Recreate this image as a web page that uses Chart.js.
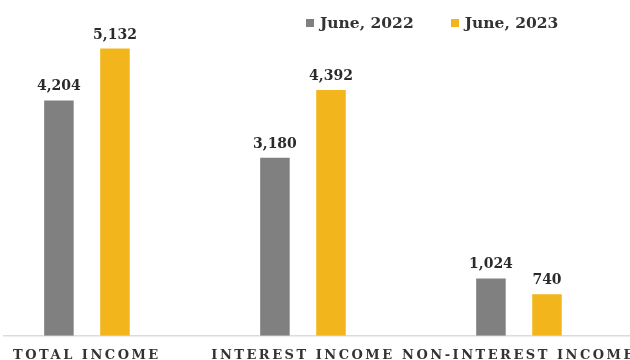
<!DOCTYPE html>
<html>
<head>
<meta charset="utf-8">
<title>Income comparison</title>
<script src="https://cdn.jsdelivr.net/npm/chart.js@4.4.0/dist/chart.umd.min.js"></script>
<style>
  html, body { margin: 0; padding: 0; background: #fff; overflow: hidden; }
  #wrap { position: relative; width: 630px; height: 360px; }
  #legend {
    position: absolute; top: 13px; left: 306px;
    display: flex; gap: 37px;
    font: bold 15.5px "DejaVu Serif", serif; color: #333;
  }
  #legend .item { display: flex; align-items: center; white-space: nowrap; }
  #legend .box { width: 8px; height: 8px; margin-right: 6px; }
</style>
</head>
<body>
<div id="wrap">
  <canvas id="incomeChart" width="630" height="360"></canvas>
  <div id="legend"></div>
</div>
<script>
const categories = ['TOTAL INCOME', 'INTEREST INCOME', 'NON-INTEREST INCOME'];
const seriesNames = ['June, 2022', 'June, 2023'];
const june2022 = [4204, 3180, 1024];
const june2023 = [5132, 4392, 740];
const seriesColors = ['#808080', '#f2b51c'];

const toPoints = (values) => values.map((v, i) => ({ x: i, y: v }));

// spaced capitals on the category axis only
const axisLetterSpacing = {
  id: 'axisLetterSpacing',
  beforeDraw(chart) {
    chart.ctx.letterSpacing = '2.5px';
  },
  beforeDatasetsDraw(chart) {
    chart.ctx.letterSpacing = '0px';
  },
};

// value written above every bar
const valueLabels = {
  id: 'valueLabels',
  afterDatasetsDraw(chart) {
    const { ctx } = chart;
    ctx.save();
    ctx.font = 'bold 14px "DejaVu Serif", serif';
    ctx.fillStyle = '#2b2b2b';
    ctx.textAlign = 'center';
    ctx.textBaseline = 'alphabetic';
    chart.data.datasets.forEach((ds, i) => {
      chart.getDatasetMeta(i).data.forEach((bar, j) => {
        ctx.fillText(ds.data[j].y.toLocaleString('en-US'), bar.x, bar.y - 10);
      });
    });
    ctx.restore();
  },
};

const ctx = document.getElementById('incomeChart').getContext('2d');

const incomeChart = new Chart(ctx, {
  type: 'bar',
  data: {
    datasets: [
      { label: seriesNames[0], data: toPoints(june2022), backgroundColor: seriesColors[0] },
      { label: seriesNames[1], data: toPoints(june2023), backgroundColor: seriesColors[1] },
    ],
  },
  options: {
    responsive: false,
    animation: false,
    layout: { padding: { left: 4, top: 0, right: 0, bottom: 0 } },
    categoryPercentage: 0.519,
    barPercentage: 0.527,
    plugins: {
      legend: { display: false },
      tooltip: { enabled: false },
    },
    scales: {
      x: {
        type: 'linear',
        offset: false,
        min: -0.384,
        max: 2.514,
        afterBuildTicks: (scale) => {
          scale.ticks = categories.map((c, i) => ({ value: i }));
        },
        grid: { display: false, tickLength: 16 },
        border: { display: true, color: '#dcdcdc', width: 1.5 },
        ticks: {
          autoSkip: false,
          maxRotation: 0,
          padding: -3,
          color: '#333',
          font: { family: '"DejaVu Serif", serif', size: 13, weight: 'bold', lineHeight: 1.1 },
          callback: (v) => categories[v],
        },
      },
      y: {
        display: false,
        min: 0,
        max: 6000,
      },
    },
  },
  plugins: [axisLetterSpacing, valueLabels],
});

// legend entries taken from the chart's datasets
const legendEl = document.getElementById('legend');
incomeChart.data.datasets.forEach((ds) => {
  const item = document.createElement('div');
  item.className = 'item';
  const box = document.createElement('span');
  box.className = 'box';
  box.style.background = ds.backgroundColor;
  const text = document.createElement('span');
  text.textContent = ds.label;
  item.appendChild(box);
  item.appendChild(text);
  legendEl.appendChild(item);
});
</script>
</body>
</html>
